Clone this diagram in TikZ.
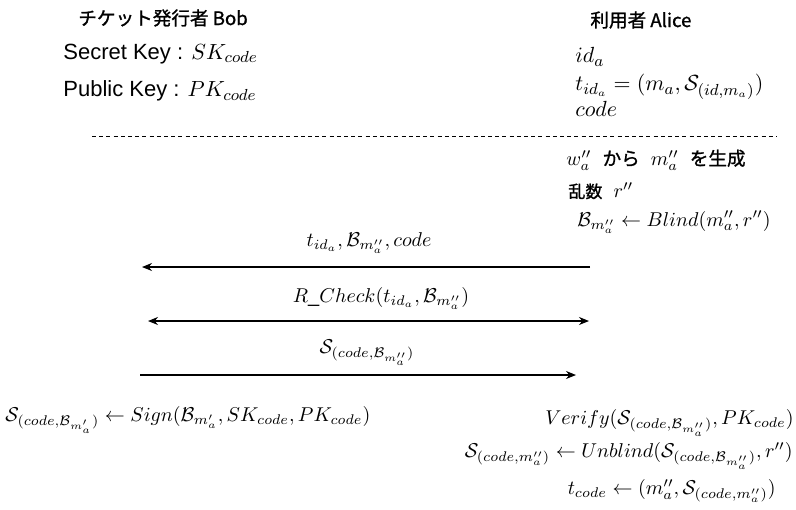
\documentclass[tikz,border=0pt]{standalone}
\usepackage{fontspec}
\setmainfont{Liberation Sans}
\newfontfamily\jpfont[FakeBold=1.2]{Noto Sans CJK JP}
\usetikzlibrary{arrows.meta}
\tikzset{
  >={Stealth[length=5pt,width=4pt]},
  txt/.style={anchor=west,inner sep=0pt,font=\fontsize{10}{12}\selectfont},
  txtr/.style={anchor=east,inner sep=0pt,font=\fontsize{10}{12}\selectfont},
  key/.style={anchor=west,inner sep=0pt,font=\fontsize{11}{13}\selectfont},
  ttl/.style={anchor=west,inner sep=0pt,font=\jpfont\fontsize{9.3}{12}\selectfont},
  msg/.style={line width=0.6pt},
  lbl/.style={inner sep=0pt,font=\fontsize{10}{12}\selectfont}
}
\begin{document}
\begin{tikzpicture}[x=0.5pt,y=-0.5pt]
\useasboundingbox (0,0) rectangle (796,509);
% Bob side
\node[ttl] (bob) at (78,18) {チケット発行者 Bob};
\node[key] (sk) at (63,54) {Secret Key : $SK_{code}$};
\node[key] (pk) at (63,91) {Public Key : $PK_{code}$};
% Alice side
\node[ttl] (alice) at (590,20) {利用者 Alice};
\node[key] (ida) at (575,57) {$id_a$};
\node[key] (tida) at (575,87) {$t_{id_a}=(m_a,\mathcal{S}_{(id,m_a)})$};
\node[key] (code) at (575,109) {$code$};
% separator
\coordinate (d1) at (92,136);
\coordinate (d2) at (777,136);
\draw[line width=0.4pt,dash pattern=on 2pt off 1.6pt] (d1) -- (d2);
% Alice prep
\node[txt] (gen) at (566,160) {$w''_a$\ \ {\jpfont\fontsize{9.3}{11}\selectfont から}\ \ $m''_a$\ \ {\jpfont\fontsize{9.3}{11}\selectfont を生成}};
\node[txt] (rnd) at (568,191) {{\jpfont\fontsize{8.5}{11}\selectfont 乱数}\ \ $r''$};
\node[txt] (blind) at (577,222) {$\mathcal{B}_{m''_a}\leftarrow Blind(m''_a,r'')$};
% messages
\coordinate (m1s) at (590,267);
\coordinate (m1e) at (142,267);
\draw[msg,->] (m1s) -- (m1e);
\node[lbl] (l1) at (369,243) {$t_{id_a},\mathcal{B}_{m''_a},code$};
\coordinate (m2s) at (148,321);
\coordinate (m2e) at (589,321);
\draw[msg,<->] (m2s) -- (m2e);
\node[lbl] (l2) at (381,298) {$R\_Check(t_{id_a},\mathcal{B}_{m''_a})$};
\coordinate (m3s) at (140,375);
\coordinate (m3e) at (576,375);
\draw[msg,->] (m3s) -- (m3e);
\node[lbl] (l3) at (367,353) {$\mathcal{S}_{(code,\mathcal{B}_{m''_a})}$};
% Bob sign
\node[txt] (sign) at (5,420) {$\mathcal{S}_{(code,\mathcal{B}_{m'_a})}\leftarrow Sign(\mathcal{B}_{m'_a},SK_{code},PK_{code})$};
% Alice final
\node[txtr] (ver) at (794,423) {$Verify(\mathcal{S}_{(code,\mathcal{B}_{m''_a})},PK_{code})$};
\node[txtr] (unb) at (793,456) {$\mathcal{S}_{(code,m''_a)}\leftarrow Unblind(\mathcal{S}_{(code,\mathcal{B}_{m''_a})},r'')$};
\node[txtr] (tc) at (776,491) {$t_{code}\leftarrow(m''_a,\mathcal{S}_{(code,m''_a)})$};
\end{tikzpicture}
\end{document}
